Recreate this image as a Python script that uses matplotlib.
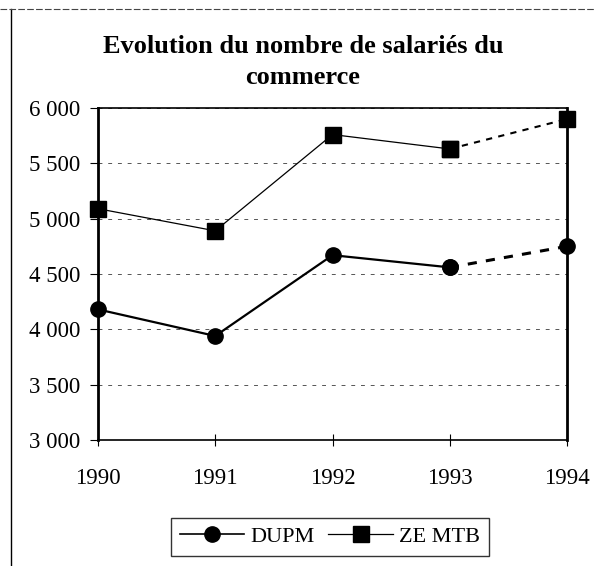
import matplotlib.pyplot as plt
from matplotlib.lines import Line2D

plt.rcParams['font.family'] = ['Liberation Serif', 'DejaVu Serif']

years = [1990, 1991, 1992, 1993, 1994]
dupm = [4180, 3940, 4670, 4560, 4750]
ze_mtb = [5090, 4890, 5760, 5630, 5900]
y_ticks = [3000, 3500, 4000, 4500, 5000, 5500, 6000]
y_labels = ["3 000", "3 500", "4 000", "4 500", "5 000", "5 500", "6 000"]


def draw_series(ax, values, marker, lw, ms):
    # solid for observed years, dashed for the last segment
    ax.plot(years[:4], values[:4], color='black', lw=lw, marker=marker, ms=ms,
            clip_on=False, zorder=3)
    ax.plot(years[3:], values[3:], color='black', lw=lw + 0.6, ls=(0, (3, 3)),
            marker=marker, ms=ms, clip_on=False, zorder=3)


def main():
    fig = plt.figure(figsize=(5.94, 5.66), dpi=100)
    ax = fig.add_axes([98 / 594, 1 - 440 / 566, (567 - 98) / 594, (440 - 108) / 566])

    draw_series(ax, ze_mtb, 's', 0.9, 12)
    draw_series(ax, dupm, 'o', 1.6, 11)

    ax.set_xlim(1990, 1994)
    ax.set_ylim(3000, 6000)
    ax.set_xticks(years)
    ax.set_xticklabels([str(y) for y in years], fontsize=16.5)
    ax.set_yticks(y_ticks)
    ax.set_yticklabels(y_labels, fontsize=16.5)
    ax.tick_params(axis='x', direction='inout', length=9, pad=16)
    ax.tick_params(axis='y', direction='out', length=6, pad=7)
    ax.grid(axis='y', ls=(0, (4, 6)), color='#555555', lw=0.7)
    for side in ['left', 'right']:
        ax.spines[side].set_linewidth(2)
    for side in ['top', 'bottom']:
        ax.spines[side].set_linewidth(1.2)

    fig.text(303 / 594, 1 - 62 / 566, "Evolution du nombre de salariés du\ncommerce",
             ha='center', va='center', fontsize=19, fontweight='bold', linespacing=1.45)

    handles = [
        Line2D([], [], color='black', lw=1.2, marker='o', ms=11),
        Line2D([], [], color='black', lw=0.9, marker='s', ms=11),
    ]
    fig.legend(handles, ["DUPM", "ZE MTB"], loc='center', bbox_to_anchor=(330 / 594, 1 - 537 / 566),
               ncol=2, fontsize=16, frameon=True, fancybox=False, edgecolor='black',
               handlelength=2.9, columnspacing=0.6, handletextpad=0.3, borderpad=0.4,
               borderaxespad=0)

    # outer frame of the scanned page
    fig.add_artist(Line2D([11 / 594, 11 / 594], [0, 1 - 9 / 566], color='black', lw=1,
                          transform=fig.transFigure))
    fig.add_artist(Line2D([0, 1], [1 - 9 / 566, 1 - 9 / 566], color='#444444', lw=0.8,
                          ls=(0, (6, 2)), transform=fig.transFigure))

    fig.savefig('out.png', dpi=100)


if __name__ == "__main__":
    main()
